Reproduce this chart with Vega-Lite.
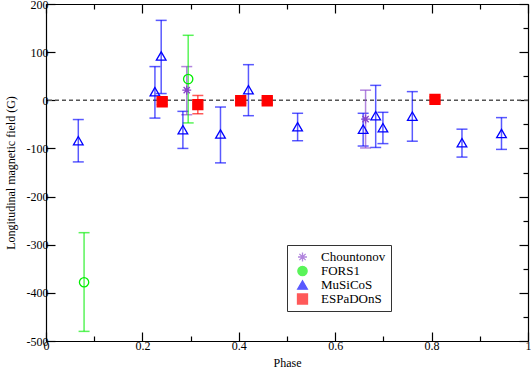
{
  "$schema": "https://vega.github.io/schema/vega-lite/v6.json",
  "width": 482,
  "height": 337,
  "autosize": "none",
  "padding": {"left": 46, "top": 4, "right": 3, "bottom": 28},
  "background": "white",
  "config": {
    "view": {"stroke": null},
    "font": "Liberation Serif",
    "axis": {"grid": false, "domainColor": "black", "tickColor": "black", "labelColor": "black", "titleColor": "black",
      "labelFont": "Liberation Serif", "titleFont": "Liberation Serif", "labelFontSize": 12, "titleFontSize": 12,
      "titleFontWeight": "normal", "domainWidth": 1.2, "tickWidth": 1.2},
    "legend": {"orient": "none", "legendX": 241, "legendY": 241, "strokeColor": "#333333", "fillColor": "white",
      "padding": 5, "labelFontSize": 13, "labelFont": "Liberation Serif", "labelColor": "black",
      "symbolOffset": 4, "labelOffset": 12, "rowPadding": 0, "clipHeight": 14, "symbolStrokeWidth": 1.3}
  },
  "data": {"values": [
    {"series": "MuSiCoS", "phase": 0.067, "B": -84, "lo": -128, "hi": -40},
    {"series": "MuSiCoS", "phase": 0.226, "B": 18, "lo": -37, "hi": 70},
    {"series": "MuSiCoS", "phase": 0.239, "B": 92, "lo": 14, "hi": 166},
    {"series": "MuSiCoS", "phase": 0.284, "B": -61, "lo": -100, "hi": -23},
    {"series": "MuSiCoS", "phase": 0.362, "B": -70, "lo": -130, "hi": -14},
    {"series": "MuSiCoS", "phase": 0.420, "B": 22, "lo": -32, "hi": 74},
    {"series": "MuSiCoS", "phase": 0.522, "B": -55, "lo": -84, "hi": -27},
    {"series": "MuSiCoS", "phase": 0.658, "B": -60, "lo": -95, "hi": -27},
    {"series": "MuSiCoS", "phase": 0.684, "B": -32, "lo": -98, "hi": 31},
    {"series": "MuSiCoS", "phase": 0.699, "B": -57, "lo": -90, "hi": -25},
    {"series": "MuSiCoS", "phase": 0.760, "B": -33, "lo": -85, "hi": 18},
    {"series": "MuSiCoS", "phase": 0.863, "B": -88, "lo": -118, "hi": -60},
    {"series": "MuSiCoS", "phase": 0.945, "B": -69, "lo": -102, "hi": -36},
    {"series": "FORS1", "phase": 0.079, "B": -378, "lo": -480, "hi": -275},
    {"series": "FORS1", "phase": 0.295, "B": 44, "lo": -47, "hi": 135},
    {"series": "Chountonov", "phase": 0.292, "B": 21, "lo": -30, "hi": 70},
    {"series": "Chountonov", "phase": 0.663, "B": -39, "lo": -99, "hi": 21},
    {"series": "ESPaDOnS", "phase": 0.241, "B": -3, "lo": -9, "hi": 3},
    {"series": "ESPaDOnS", "phase": 0.315, "B": -9, "lo": -28, "hi": 10},
    {"series": "ESPaDOnS", "phase": 0.404, "B": -1, "lo": -6, "hi": 4},
    {"series": "ESPaDOnS", "phase": 0.459, "B": -1, "lo": -7, "hi": 5},
    {"series": "ESPaDOnS", "phase": 0.807, "B": 2, "lo": -3, "hi": 7}
  ]},
  "layer": [
    {
      "layer": [
        {
          "data": {"values": [{"z": 0}]},
          "mark": {"type": "rule", "strokeDash": [4, 3], "color": "#555555", "strokeWidth": 1.5},
          "encoding": {
            "y": {"field": "z", "type": "quantitative", "scale": {"domain": [-500, 200], "nice": false, "zero": false},
              "axis": {"orient": "left", "values": [-500, -450, -400, -350, -300, -250, -200, -150, -100, -50, 0, 50, 100, 150, 200],
                "labelExpr": "datum.value%100==0 ? ''+datum.value : ''",
                "tickSize": {"condition": {"test": "datum.value%100==0", "value": -9}, "value": -5},
                "title": "Longitudinal magnetic field (G)", "labelPadding": 7, "titlePadding": 9}}
          }
        },
        {
          "mark": {"type": "errorbar", "ticks": {"size": 11}, "thickness": 1.5, "opacity": 0.65},
          "encoding": {
            "x": {"field": "phase", "type": "quantitative", "scale": {"domain": [0, 1], "nice": false, "zero": false},
              "axis": {"orient": "bottom", "values": [0, 0.1, 0.2, 0.3, 0.4, 0.5, 0.6, 0.7, 0.8, 0.9, 1],
                "labelExpr": "round(datum.value*10)%2==0 ? ''+datum.value : ''",
                "tickSize": {"condition": {"test": "round(datum.value*10)%2==0", "value": -9}, "value": -5},
                "title": "Phase", "labelPadding": 8, "titlePadding": 6, "labelFlush": false}},
            "y": {"field": "lo", "type": "quantitative", "title": "Longitudinal magnetic field (G)"},
            "y2": {"field": "hi"},
            "color": {"field": "series", "type": "nominal", "title": null}
          }
        },
        {
          "mark": {"type": "point", "filled": false, "strokeWidth": 1.3, "opacity": 1},
          "encoding": {
            "x": {"field": "phase", "type": "quantitative", "title": "Phase"},
            "y": {"field": "B", "type": "quantitative", "title": "Longitudinal magnetic field (G)"},
            "color": {"field": "series", "type": "nominal", "title": null,
              "scale": {"domain": ["Chountonov", "FORS1", "MuSiCoS", "ESPaDOnS"], "range": ["#8844cc", "#00ee00", "#0000ff", "#ff0000"]},
              "legend": {"encode": {"symbols": {
                "fill": {"condition": {"test": "datum.value === 'ESPaDOnS'", "value": "#ff0000"}, "value": "transparent"},
                "fillOpacity": {"value": 1},
                "opacity": {"value": 1}}}}},
            "fill": {"field": "series", "type": "nominal", "title": null,
              "scale": {"domain": ["Chountonov", "FORS1", "MuSiCoS", "ESPaDOnS"], "range": ["transparent", "transparent", "transparent", "#ff0000"]},
              "legend": {"encode": {"symbols": {
                "fill": {"condition": {"test": "datum.value === 'ESPaDOnS'", "value": "#ff0000"}, "value": "transparent"},
                "fillOpacity": {"value": 1},
                "opacity": {"value": 1}}}}},
            "shape": {"field": "series", "type": "nominal", "title": null,
              "scale": {"domain": ["Chountonov", "FORS1", "MuSiCoS", "ESPaDOnS"], "range": ["M0,-1L0,1M-1,0L1,0M-0.7,-0.7L0.7,0.7M-0.7,0.7L0.7,-0.7", "circle", "triangle-up", "square"]}},
            "size": {"field": "series", "type": "nominal", "title": null,
              "scale": {"domain": ["Chountonov", "FORS1", "MuSiCoS", "ESPaDOnS"], "range": [80, 100, 115, 72]}}
          }
        }
      ]
    },
    {
      "mark": {"type": "point", "opacity": 0},
      "encoding": {
        "x": {"field": "phase", "type": "quantitative",
          "axis": {"orient": "top", "values": [0, 0.1, 0.2, 0.3, 0.4, 0.5, 0.6, 0.7, 0.8, 0.9, 1], "labels": false, "title": null,
            "tickSize": {"condition": {"test": "round(datum.value*10)%2==0", "value": -9}, "value": -5}}},
        "y": {"field": "B", "type": "quantitative",
          "axis": {"orient": "right", "values": [-500, -450, -400, -350, -300, -250, -200, -150, -100, -50, 0, 50, 100, 150, 200], "labels": false, "title": null,
            "tickSize": {"condition": {"test": "datum.value%100==0", "value": -9}, "value": -5}}}
      }
    }
  ],
  "resolve": {"axis": {"x": "independent", "y": "independent"}}
}
